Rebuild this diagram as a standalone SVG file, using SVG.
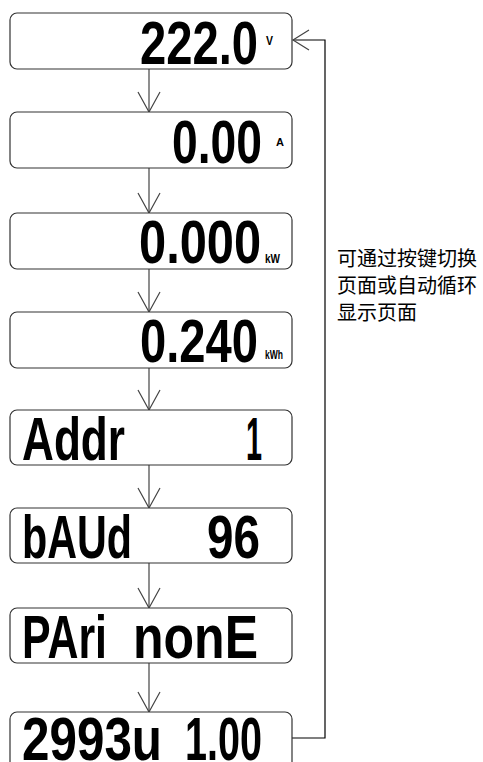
<svg xmlns="http://www.w3.org/2000/svg" width="483" height="762" viewBox="0 0 483 762">
<style>
.box{fill:#fff;stroke:#333;stroke-width:1.2}
.seg{font-family:"Liberation Sans","DejaVu Sans",sans-serif;font-weight:bold;font-size:61px;fill:#000}
.unit{font-family:"Liberation Sans","DejaVu Sans",sans-serif;font-weight:bold;fill:#000}
.conn{fill:none;stroke:#444;stroke-width:1.2}
.fb{fill:none;stroke:#000;stroke-width:1.2}
.cn{font-family:"Noto Sans CJK SC","Noto Sans",sans-serif;font-size:20px;fill:#000}
</style>
<defs>
<marker id="av" markerUnits="userSpaceOnUse" markerWidth="24" markerHeight="26" viewBox="-22 -12 24 24" refX="0" refY="0" orient="auto">
<path d="M-20,-11 L0,0 L-20,11" fill="none" stroke="#444" stroke-width="1.2"/>
</marker>
<marker id="ah" markerUnits="userSpaceOnUse" markerWidth="20" markerHeight="24" viewBox="-18 -12 20 24" refX="0" refY="0" orient="auto">
<path d="M-16,-10 L0,0 L-16,10" fill="none" stroke="#444" stroke-width="1.2"/>
</marker>
</defs>

<g id="connectors">
<line class="conn" x1="149" y1="69" x2="149" y2="112" marker-end="url(#av)"/>
<line class="conn" x1="149" y1="168" x2="149" y2="213" marker-end="url(#av)"/>
<line class="conn" x1="149" y1="269" x2="149" y2="312" marker-end="url(#av)"/>
<line class="conn" x1="149" y1="368" x2="149" y2="410" marker-end="url(#av)"/>
<line class="conn" x1="149" y1="465" x2="149" y2="508" marker-end="url(#av)"/>
<line class="conn" x1="149" y1="563" x2="149" y2="608" marker-end="url(#av)"/>
<line class="conn" x1="149" y1="663" x2="149" y2="712" marker-end="url(#av)"/>
<polyline class="fb" points="292,738 325,738 325,40 293,40" marker-end="url(#ah)"/>
</g>

<g id="n1">
<rect class="box" x="10" y="13" width="282" height="56" rx="7"/>
<text class="seg" transform="translate(140,64) scale(0.773,1)">222.0</text>
<text class="unit" x="266" y="45" font-size="12" textLength="7" lengthAdjust="spacingAndGlyphs">V</text>
</g>

<g id="n2">
<rect class="box" x="10" y="112" width="282" height="56" rx="7"/>
<text class="seg" transform="translate(172,163) scale(0.758,1)">0.00</text>
<text class="unit" x="276" y="146" font-size="11">A</text>
</g>

<g id="n3">
<rect class="box" x="10" y="213" width="282" height="56" rx="7"/>
<text class="seg" transform="translate(139,263) scale(0.8,1)">0.000</text>
<text class="unit" x="265" y="263" font-size="13" textLength="15" lengthAdjust="spacingAndGlyphs">kW</text>
</g>

<g id="n4">
<rect class="box" x="10" y="312" width="282" height="56" rx="7"/>
<text class="seg" transform="translate(140,362) scale(0.773,1)">0.240</text>
<text class="unit" x="265" y="359" font-size="12" textLength="18" lengthAdjust="spacingAndGlyphs">kWh</text>
</g>

<g id="n5">
<rect class="box" x="10" y="410" width="282" height="55" rx="7"/>
<text class="seg" x="22" y="460"><tspan textLength="103" lengthAdjust="spacingAndGlyphs">Addr</tspan> <tspan x="246" textLength="16" lengthAdjust="spacingAndGlyphs">1</tspan></text>
</g>

<g id="n6">
<rect class="box" x="10" y="508" width="282" height="55" rx="7"/>
<text class="seg" x="22" y="558"><tspan textLength="110" lengthAdjust="spacingAndGlyphs">bAUd</tspan> <tspan x="207" textLength="53" lengthAdjust="spacingAndGlyphs">96</tspan></text>
</g>

<g id="n7">
<rect class="box" x="10" y="608" width="282" height="55" rx="7"/>
<text class="seg" x="22" y="658"><tspan textLength="85" lengthAdjust="spacingAndGlyphs">PAri</tspan> <tspan x="133" textLength="125" lengthAdjust="spacingAndGlyphs">nonE</tspan></text>
</g>

<g id="n8">
<rect class="box" x="10" y="712" width="282" height="64" rx="7"/>
<text class="seg" x="22" y="760"><tspan textLength="140" lengthAdjust="spacingAndGlyphs">2993u</tspan> <tspan x="185" textLength="77" lengthAdjust="spacingAndGlyphs">1.00</tspan></text>
</g>

<g id="note">
<text class="cn" x="337" y="266">可通过按键切换</text>
<text class="cn" x="337" y="293">页面或自动循环</text>
<text class="cn" x="337" y="320">显示页面</text>
</g>
</svg>
